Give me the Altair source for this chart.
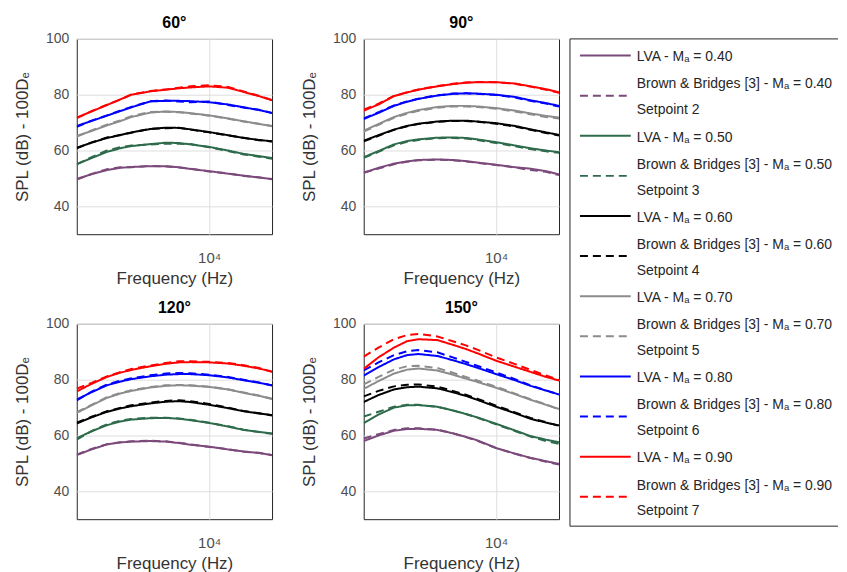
import altair as alt
import pandas as pd

freqs = [2100, 2500, 3000, 3500, 4000, 5000, 6000, 7000, 8000, 10000, 12500, 15000, 18000, 21000]
mach_numbers = ["0.40", "0.50", "0.60", "0.70", "0.80", "0.90"]
setpoints = ["Setpoint 2", "Setpoint 3", "Setpoint 4", "Setpoint 5", "Setpoint 6", "Setpoint 7"]
colors = ["#7B4A7B", "#2E6B4C", "#000000", "#8C8C8C", "#0000FF", "#FF0000"]
angles = ["60°", "90°", "120°", "150°"]

lva_60 = {
    "0.40": [49.8, 51.5, 53.0, 53.8, 54.1, 54.4, 54.4, 54.0, 53.4, 52.6, 51.7, 51.0, 50.3, 49.8],
    "0.50": [55.1, 57.3, 59.5, 60.8, 61.6, 62.3, 62.8, 62.7, 62.2, 61.3, 60.0, 58.8, 58.0, 57.3],
    "0.60": [61.0, 62.8, 64.5, 65.5, 66.5, 67.7, 68.2, 68.1, 67.6, 66.6, 65.5, 64.5, 63.8, 63.3],
    "0.70": [65.2, 67.0, 69.0, 70.5, 72.0, 73.6, 74.0, 73.8, 73.4, 72.6, 71.5, 70.5, 69.5, 68.8],
    "0.80": [68.8, 70.6, 72.5, 74.1, 75.5, 77.6, 77.8, 77.8, 77.7, 77.3, 76.5, 75.5, 74.5, 73.5],
    "0.90": [71.8, 74.0, 76.3, 78.3, 80.0, 81.2, 81.8, 82.3, 82.6, 83.0, 82.5, 81.0, 79.5, 78.0],
}
bb_60 = {
    "0.40": [49.6, 51.6, 53.3, 54.0, 54.0, 54.5, 54.3, 53.9, 53.5, 52.5, 51.8, 50.9, 50.4, 49.7],
    "0.50": [55.0, 57.6, 60.0, 61.2, 61.8, 62.1, 62.5, 62.4, 62.3, 61.2, 59.8, 58.6, 57.8, 57.0],
    "0.60": [60.8, 62.9, 64.7, 65.6, 66.4, 67.8, 68.0, 68.2, 67.5, 66.5, 65.4, 64.6, 63.7, 63.2],
    "0.70": [65.0, 67.2, 69.3, 70.8, 72.3, 73.8, 73.9, 73.7, 73.3, 72.5, 71.4, 70.4, 69.6, 68.7],
    "0.80": [68.5, 70.7, 72.6, 74.3, 75.6, 77.7, 77.9, 77.6, 77.3, 77.6, 76.3, 75.4, 74.6, 73.4],
    "0.90": [71.6, 74.1, 76.4, 78.2, 80.1, 81.3, 81.9, 82.5, 83.0, 83.4, 82.8, 81.2, 79.6, 78.1],
}
lva_90 = {
    "0.40": [52.0, 53.8, 55.3, 56.1, 56.6, 56.8, 56.6, 56.2, 55.7, 54.9, 54.0, 53.5, 52.6, 51.4],
    "0.50": [57.6, 59.8, 62.2, 63.4, 64.0, 64.6, 64.7, 64.5, 64.0, 63.0, 61.8, 60.8, 60.0, 59.4],
    "0.60": [63.5, 65.5, 67.5, 68.8, 69.6, 70.4, 70.7, 70.7, 70.4, 69.8, 68.8, 67.6, 66.5, 65.6],
    "0.70": [67.1, 69.5, 72.0, 73.5, 74.5, 75.6, 76.0, 76.0, 75.8, 75.2, 74.3, 73.3, 72.4, 71.8],
    "0.80": [71.3, 73.5, 76.0, 77.5, 78.5, 79.7, 80.3, 80.5, 80.4, 80.0, 79.2, 78.0, 77.0, 76.0],
    "0.90": [74.3, 76.5, 79.5, 80.8, 81.8, 83.0, 83.8, 84.3, 84.5, 84.5, 84.0, 83.0, 82.0, 80.8],
}
bb_90 = {
    "0.40": [52.1, 53.5, 55.1, 56.0, 56.5, 56.7, 56.5, 56.1, 55.6, 54.8, 53.9, 53.0, 52.4, 51.2],
    "0.50": [57.4, 59.5, 61.9, 63.1, 63.8, 64.4, 64.5, 64.3, 63.8, 62.7, 61.5, 60.5, 59.7, 59.2],
    "0.60": [63.3, 65.3, 67.4, 68.7, 69.5, 70.3, 70.6, 70.6, 70.3, 69.6, 68.6, 67.4, 66.3, 65.4],
    "0.70": [66.8, 69.2, 71.7, 73.2, 74.2, 75.3, 75.8, 75.8, 75.6, 75.0, 74.0, 73.0, 72.0, 71.5],
    "0.80": [71.5, 73.7, 76.2, 77.6, 78.6, 79.8, 80.4, 80.5, 80.3, 79.9, 79.0, 77.8, 76.8, 75.8],
    "0.90": [74.6, 76.8, 79.6, 80.9, 81.9, 83.1, 83.9, 84.4, 84.6, 84.5, 83.9, 82.9, 81.8, 80.7],
}
lva_120 = {
    "0.40": [53.0, 55.0, 56.8, 57.5, 57.8, 58.0, 57.8, 57.3, 56.7, 56.0, 55.0, 54.3, 53.7, 53.0],
    "0.50": [59.0, 61.5, 63.7, 65.0, 65.7, 66.2, 66.3, 66.0, 65.5, 64.5, 63.2, 62.0, 61.3, 60.7],
    "0.60": [64.3, 66.5, 68.5, 69.7, 70.5, 71.5, 72.1, 72.3, 72.0, 71.0, 69.8, 68.7, 67.9, 67.3],
    "0.70": [68.1, 70.8, 73.5, 75.0, 76.0, 77.2, 77.8, 78.0, 77.9, 77.4, 76.5, 75.3, 74.2, 73.2],
    "0.80": [72.9, 75.5, 78.0, 79.3, 80.2, 81.2, 81.8, 82.0, 82.0, 81.6, 80.8, 79.8, 78.9, 78.0],
    "0.90": [75.8, 78.5, 81.0, 82.5, 83.5, 84.8, 85.7, 86.2, 86.3, 86.2, 85.8, 85.0, 84.0, 82.9],
}
bb_120 = {
    "0.40": [53.1, 55.2, 56.9, 57.6, 57.9, 58.1, 57.9, 57.4, 56.8, 55.9, 55.1, 54.2, 53.8, 52.9],
    "0.50": [58.5, 61.6, 64.0, 65.3, 65.9, 66.4, 66.4, 66.1, 65.6, 64.6, 63.3, 62.1, 61.2, 60.6],
    "0.60": [64.6, 66.7, 68.7, 69.9, 70.8, 71.8, 72.4, 72.6, 72.3, 71.3, 70.0, 68.8, 68.0, 67.2],
    "0.70": [68.4, 71.0, 73.7, 75.2, 76.2, 77.4, 78.0, 78.1, 78.0, 77.5, 76.6, 75.4, 74.3, 73.1],
    "0.80": [72.6, 75.7, 78.3, 79.6, 80.5, 81.6, 82.2, 82.4, 82.3, 81.8, 81.0, 80.0, 79.0, 77.9],
    "0.90": [76.8, 78.8, 81.2, 82.7, 83.8, 85.1, 86.0, 86.6, 86.6, 86.4, 86.0, 85.2, 84.2, 82.8],
}
lva_150 = {
    "0.40": [58.0, 60.0, 61.7, 62.3, 62.4, 62.0, 60.8, 59.5, 58.3, 55.5, 53.5, 52.0, 50.8, 49.8],
    "0.50": [64.4, 67.5, 70.0, 70.8, 70.9, 70.3, 69.0, 67.7, 66.5, 64.2, 61.8, 59.8, 58.5, 57.6],
    "0.60": [72.0, 74.5, 76.5, 77.3, 77.5, 76.9, 75.5, 74.2, 72.8, 70.3, 68.0, 66.0, 64.6, 63.6],
    "0.70": [76.7, 79.5, 82.2, 83.6, 84.0, 83.3, 81.8, 80.4, 79.2, 77.1, 74.8, 72.8, 71.0, 69.5],
    "0.80": [81.5, 84.5, 87.3, 88.8, 89.2, 88.5, 87.0, 85.6, 84.3, 82.0, 79.8, 77.8, 76.1, 74.7],
    "0.90": [83.9, 88.0, 91.5, 93.8, 94.5, 94.2, 92.5, 91.0, 89.5, 86.8, 84.6, 82.8, 81.0, 79.7],
}
bb_150 = {
    "0.40": [58.9, 60.5, 62.0, 62.6, 62.6, 62.1, 60.8, 59.4, 58.1, 55.5, 53.4, 51.9, 50.6, 49.6],
    "0.50": [66.8, 68.5, 70.3, 71.0, 71.0, 70.3, 69.0, 67.7, 66.4, 64.0, 61.6, 59.6, 58.0, 57.0],
    "0.60": [74.0, 76.0, 77.6, 78.2, 78.3, 77.5, 76.0, 74.6, 73.2, 70.7, 68.3, 66.3, 64.8, 63.4],
    "0.70": [78.3, 81.0, 83.6, 84.8, 85.0, 84.2, 82.5, 81.0, 79.7, 77.5, 75.0, 73.0, 71.2, 69.3],
    "0.80": [83.3, 86.2, 88.8, 90.2, 90.6, 89.8, 88.0, 86.4, 85.0, 82.6, 80.2, 78.0, 76.2, 74.7],
    "0.90": [88.3, 91.5, 94.5, 96.0, 96.4, 95.5, 93.8, 92.3, 90.8, 88.0, 85.6, 83.5, 81.5, 79.9],
}

rows = []
for angle, lva, bb in [("60°", lva_60, bb_60), ("90°", lva_90, bb_90),
                       ("120°", lva_120, bb_120), ("150°", lva_150, bb_150)]:
    for m in mach_numbers:
        for src, table in (("LVA", lva), ("Brown & Bridges", bb)):
            for f, v in zip(freqs, table[m]):
                rows.append({"angle": angle, "mach": m, "source": src, "freq": f, "spl": v})
df = pd.DataFrame(rows)

FONT = "Liberation Sans"
color_scale = alt.Scale(domain=mach_numbers, range=colors)


def panel(angle):
    return alt.Chart(df[df["angle"] == angle]).mark_line(strokeWidth=2, clip=True).encode(
        x=alt.X("freq:Q",
                scale=alt.Scale(type="log", domain=[2100, 21000], nice=False, zero=False),
                axis=alt.Axis(values=[10000], labelExpr="'10⁴'", title="Frequency (Hz)",
                              labelPadding=16, titlePadding=5, labelFontSize=15)),
        y=alt.Y("spl:Q",
                scale=alt.Scale(domain=[30, 100], nice=False, zero=False),
                axis=alt.Axis(values=[40, 60, 80, 100], title="SPL (dB) - 100Dₑ",
                              labelPadding=8, titlePadding=14)),
        color=alt.Color("mach:N", scale=color_scale, legend=None),
        strokeDash=alt.StrokeDash("source:N",
                                  scale=alt.Scale(domain=["LVA", "Brown & Bridges"],
                                                  range=[[1, 0], [8, 5]]),
                                  legend=None),
    ).properties(width=196, height=196,
                 title=alt.TitleParams(angle, fontSize=16, fontWeight="bold", font=FONT,
                                       color="#000000", offset=1))


# ---- custom legend ----
leg_text = []
leg_lines = []
for i, (m, sp) in enumerate(zip(mach_numbers, setpoints)):
    base = 3 * i
    eq = "=  " if m in ("0.80", "0.90") else "= "
    leg_text.append({"row": base + 0.07, "label": f"LVA - Mₐ {eq}{m}"})
    leg_text.append({"row": base + 1.08, "label": f"Brown & Bridges [3] - Mₐ = {m}"})
    leg_text.append({"row": base + 2.05, "label": sp})
    leg_lines.append({"row": base, "mach": m, "source": "LVA"})
    leg_lines.append({"row": base + 1.5, "mach": m, "source": "Brown & Bridges"})

leg_y = alt.Scale(domain=[-0.622, 17.6], reverse=True, nice=False, zero=False)
LW, LH = 269, 489

leg_line_chart = alt.Chart(pd.DataFrame(leg_lines)).mark_rule(strokeWidth=2).encode(
    x=alt.value(10), x2=alt.value(61),
    y=alt.Y("row:Q", scale=leg_y, axis=None),
    color=alt.Color("mach:N", scale=color_scale, legend=None),
    strokeDash=alt.StrokeDash("source:N",
                              scale=alt.Scale(domain=["LVA", "Brown & Bridges"],
                                              range=[[1, 0], [10.5, 9.5]]),
                              legend=None),
)
leg_text_chart = alt.Chart(pd.DataFrame(leg_text)).mark_text(
    align="left", baseline="middle", fontSize=14, font=FONT, color="#262626", clip=True
).encode(
    x=alt.value(67),
    y=alt.Y("row:Q", scale=leg_y, axis=None),
    text="label:N",
)
frame_df = pd.DataFrame({"k": [0]})
frame_top = alt.Chart(frame_df).mark_rule(color="#262626", strokeWidth=1).encode(
    x=alt.value(0), x2=alt.value(LW), y=alt.value(0))
frame_bottom = alt.Chart(frame_df).mark_rule(color="#262626", strokeWidth=1).encode(
    x=alt.value(0), x2=alt.value(LW), y=alt.value(LH))
frame_left = alt.Chart(frame_df).mark_rule(color="#262626", strokeWidth=1).encode(
    x=alt.value(0), y=alt.value(0), y2=alt.value(LH))

legend_chart = alt.layer(frame_top, frame_bottom, frame_left, leg_line_chart, leg_text_chart).properties(
    width=LW, height=LH, view=alt.ViewConfig(stroke="transparent"))

grid = alt.vconcat(
    alt.hconcat(panel("60°"), panel("90°"), spacing=27),
    alt.hconcat(panel("120°"), panel("150°"), spacing=27),
    spacing=12,
)

chart = alt.hconcat(grid, legend_chart, spacing=9).properties(
    padding={"left": 5, "top": 5, "right": 0, "bottom": 5}
).configure_view(
    stroke="#262626", strokeWidth=1
).configure_axis(
    labelFont=FONT, labelFontSize=14, labelColor="#4D4D4D",
    titleFont=FONT, titleFontSize=17, titleFontWeight="normal", titleColor="#333333",
    gridColor="#DEDEDE", gridWidth=1, domain=False, ticks=False,
).configure_title(anchor="middle")

chart.save("out.html", embed_options={"renderer": "svg", "actions": False})
